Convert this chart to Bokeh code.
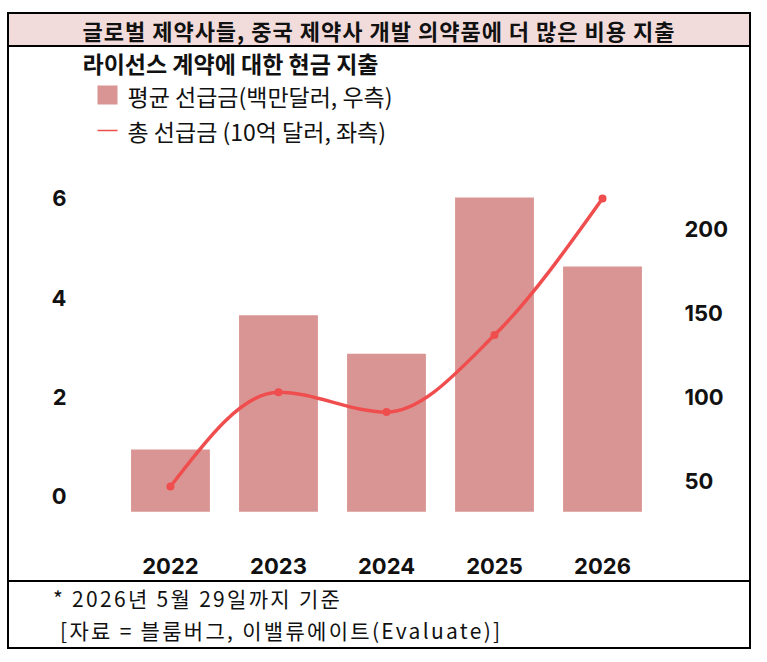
from bokeh.plotting import figure
from bokeh.layouts import column
from bokeh.models import Range1d, LinearAxis, FixedTicker, BoxAnnotation, Label, Div
from bokeh.embed import file_html
from bokeh.resources import INLINE

# data
years = [2022, 2023, 2024, 2025, 2026]
avg_upfront = [69, 149, 126, 219, 178]        # 평균 선급금, 백만달러 (right axis)
total_upfront = [0.2, 2.1, 1.7, 3.25, 6.0]    # 총 선급금, 10억 달러 (left axis)
left_ticks = [0, 2, 4, 6]
right_ticks = [50, 100, 150, 200]
year_labels = ["2022", "2023", "2024", "2025", "2026"]

title = "글로벌 제약사들, 중국 제약사 개발 의약품에 더 많은 비용 지출"
subtitle = "라이선스 계약에 대한 현금 지출"
bar_label = "평균 선급금(백만달러, 우측)"
line_label = "총 선급금 (10억 달러, 좌측)"
note1 = "* 2026년 5월 29일까지 기준"
note2 = "[자료 = 블룸버그, 이밸류에이트(Evaluate)]"

BAR = "#D99594"
RED = "#F04E4E"
PINK = "#F2DCDB"
KR = "Noto Sans CJK KR"
NUM = "Inter"

# figure sits at page (9, 47); its frame spans page x 80..660, y 47..525
FL, FB = 80, 525

p = figure(width=740, height=533, output_backend="svg", toolbar_location=None,
           x_range=Range1d(2021.167, 2026.537), y_range=Range1d(-0.584, 9.04),
           min_border_left=71, min_border_right=89, min_border_top=0, min_border_bottom=55)
p.extra_y_ranges = {"right": Range1d(23.8, 308.3)}
p.grid.visible = False
p.outline_line_color = None
p.title.visible = False

# bars on the right scale
p.vbar(x=years, top=avg_upfront, bottom=32, width=0.73, y_range_name="right",
       fill_color=BAR, line_color=None)

# smooth line (monotone cubic, as bezier segments built from the data)
n = len(years)
sl = [(total_upfront[i + 1] - total_upfront[i]) / (years[i + 1] - years[i]) for i in range(n - 1)]
t = [0.0] * n
for i in range(1, n - 1):
    s0, s1 = sl[i - 1], sl[i]
    if s0 * s1 <= 0:
        t[i] = 0.0
    else:
        h0 = years[i] - years[i - 1]
        h1 = years[i + 1] - years[i]
        pp = (s0 * h1 + s1 * h0) / (h0 + h1)
        sign = 1 if s0 > 0 else -1
        t[i] = 2 * sign * min(abs(s0), abs(s1), 0.5 * abs(pp))
t[0] = (3 * sl[0] - t[1]) / 2
t[-1] = (3 * sl[-1] - t[-2]) / 2
x0 = years[:-1]
x1 = years[1:]
y0 = total_upfront[:-1]
y1 = total_upfront[1:]
dx = [b - a for a, b in zip(x0, x1)]
cx0 = [a + d / 3 for a, d in zip(x0, dx)]
cx1 = [b - d / 3 for b, d in zip(x1, dx)]
cy0 = [y + d * t[i] / 3 for i, (y, d) in enumerate(zip(y0, dx))]
cy1 = [y - d * t[i + 1] / 3 for i, (y, d) in enumerate(zip(y1, dx))]
p.bezier(x0=x0, y0=y0, x1=x1, y1=y1, cx0=cx0, cy0=cy0, cx1=cx1, cy1=cy1,
         line_color=RED, line_width=3.5)
p.scatter(years, total_upfront, size=8, fill_color=RED, line_color=None)

# axes
p.yaxis.ticker = FixedTicker(ticks=left_ticks)
p.xaxis.ticker = FixedTicker(ticks=years)
p.xaxis.major_label_overrides = {y: s for y, s in zip(years, year_labels)}
right = LinearAxis(y_range_name="right", ticker=FixedTicker(ticks=right_ticks))
p.add_layout(right, "right")
for ax in [p.xaxis[0], p.yaxis[0], right]:
    ax.axis_line_color = None
    ax.major_tick_line_color = None
    ax.minor_tick_line_color = None
    ax.major_label_text_font = NUM
    ax.major_label_text_font_style = "bold"
    ax.major_label_text_font_size = "22px"
    ax.major_label_text_color = "#111111"
p.xaxis.major_label_standoff = 26
p.yaxis[0].major_label_standoff = 8
right.major_label_standoff = 18


def box(l, r, t, b, **kw):
    # page pixel coords -> screen units (relative to the frame, y up)
    p.add_layout(BoxAnnotation(left=l - FL, right=r - FL, top=FB - t, bottom=FB - b,
                               left_units="screen", right_units="screen",
                               top_units="screen", bottom_units="screen", **kw))


def label(x, y, text, size, bold=False):
    p.add_layout(Label(x=x - FL, y=FB - y, x_units="screen", y_units="screen", text=text,
                       text_font=KR, text_font_size=size, text_font_style="bold" if bold else "normal",
                       text_baseline="middle", text_color="#111111"))


# subtitle and legend
label(82, 62, subtitle, "23px", bold=True)
box(97, 117, 85, 104, fill_color=BAR, fill_alpha=1, line_color=None)
box(97, 117, 129.2, 130.8, fill_color=RED, fill_alpha=1, line_color=None)
label(127, 95, bar_label, "23px")
label(127, 130, line_label, "23px")

head = Div(text=title, width=740, height=33, margin=0,
           styles={"background-color": PINK, "border-bottom": "2px solid black",
                   "font-family": KR, "font-weight": "bold", "font-size": "22px",
                   "letter-spacing": "1px", "line-height": "33px", "text-align": "center",
                   "color": "#111111", "box-sizing": "border-box"})
notes = Div(text=f"<div>{note1}</div><div style='padding-left:7px'>{note2}</div>",
            width=740, height=67, margin=0,
            styles={"border-top": "2px solid black", "font-family": KR, "font-size": "21px",
                    "letter-spacing": "2.3px", "line-height": "32px", "padding-left": "44px",
                    "box-sizing": "border-box", "color": "#111111"})

page = column(head, p, notes, margin=(12, 0, 0, 7), spacing=0,
              styles={"border": "2px solid black", "background-color": "white"})

open("out.html", "w").write(file_html(page, INLINE))
